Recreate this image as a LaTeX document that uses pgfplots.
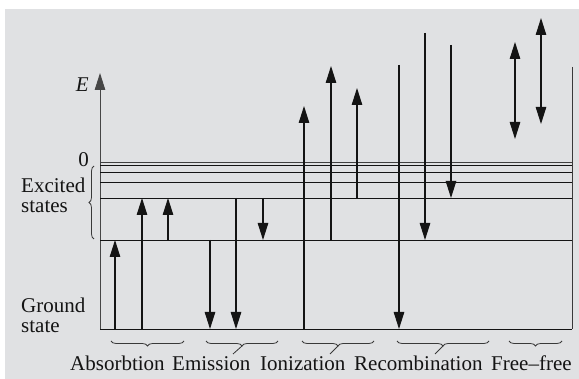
\documentclass[border=0pt]{standalone}
\usepackage{pgfplots}
\pgfplotsset{compat=1.18}
\usetikzlibrary{arrows.meta,decorations.pathreplacing}
\usepackage{fontspec}
\setmainfont{Liberation Serif}
\definecolor{panel}{RGB}{224,225,227}
\definecolor{ink}{RGB}{20,20,20}
\tikzset{
  arr/.style={-{Triangle[length=17pt,width=10.5pt]}},
  dbl/.style={{Triangle[length=17pt,width=10.5pt]}-{Triangle[length=17pt,width=10.5pt]}},
  br/.style={decorate, decoration={brace, mirror, amplitude=5pt}, gray!45!black, line width=0.8pt},
}
\begin{document}
\begin{tikzpicture}
\begin{axis}[
  width=579pt, height=379pt, scale only axis,
  xmin=0, xmax=579, ymin=0, ymax=379, y dir=reverse,
  hide axis, clip=false,
  every axis plot/.append style={ink, line width=1.1pt},
]
\path (axis cs:0,0) rectangle (axis cs:579,379);
\fill[panel] (axis cs:5,9) rectangle (axis cs:579,379);

% energy axis
\addplot[arr, gray!55!black, line width=1pt] coordinates {(100,329) (100,73)};
% right border
\addplot[gray!45!black, line width=1pt] coordinates {(572,67) (572,329)};
% levels
\addplot[line width=0.9pt] coordinates {(100,329) (572,329)};
\addplot[line width=0.9pt] coordinates {(100,240) (572,240)};
\addplot[line width=0.9pt] coordinates {(100,198) (572,198)};
\addplot[line width=0.7pt] coordinates {(100,182) (572,182)};
\addplot[line width=0.7pt] coordinates {(100,172) (572,172)};
\addplot[line width=0.7pt] coordinates {(100,165) (572,165)};
\addplot[line width=0.7pt, gray!50!black] coordinates {(100,162) (572,162)};

% absorption
\addplot[arr] coordinates {(115,329) (115,240)};
\addplot[arr] coordinates {(142,329) (142,198)};
\addplot[arr] coordinates {(168,240) (168,198)};
% emission
\addplot[arr] coordinates {(210,240) (210,329)};
\addplot[arr] coordinates {(236,198) (236,329)};
\addplot[arr] coordinates {(263,198) (263,240)};
% ionization
\addplot[arr] coordinates {(304,329) (304,106)};
\addplot[arr] coordinates {(331,240) (331,66)};
\addplot[arr] coordinates {(357,198) (357,88)};
% recombination
\addplot[arr] coordinates {(399,65) (399,329)};
\addplot[arr] coordinates {(425,33) (425,240)};
\addplot[arr] coordinates {(451,45) (451,198)};
% free-free
\addplot[dbl] coordinates {(515,42) (515,139)};
\addplot[dbl] coordinates {(541,18) (541,124)};

% braces
\draw[br] (axis cs:111,341) -- (axis cs:184,341);
\draw[br] (axis cs:206,341) -- (axis cs:278,341);
\draw[br] (axis cs:302,341) -- (axis cs:374,341);
\draw[br] (axis cs:397,341) -- (axis cs:489,341);
\draw[br] (axis cs:509,341) -- (axis cs:562,341);
\draw[gray!45!black, line width=0.8pt] (axis cs:242,346) -- (axis cs:233,354);
\draw[gray!45!black, line width=0.8pt] (axis cs:338,346) -- (axis cs:330,354);
\draw[gray!45!black, line width=0.8pt] (axis cs:443,346) -- (axis cs:435,354);
\draw[decorate, decoration={brace, amplitude=5pt}, gray!45!black, line width=0.8pt]
  (axis cs:94,239) -- (axis cs:94,166);

% labels
\begin{scope}[every node/.style={text=ink, font=\fontsize{21}{23}\selectfont, inner sep=0pt}]
\node[anchor=base east] at (axis cs:89,92) {\textit{E}};
\node[anchor=base east] at (axis cs:89,167) {0};
\node[anchor=base west] at (axis cs:21,193) {Excited};
\node[anchor=base west] at (axis cs:21,213) {states};
\node[anchor=base west] at (axis cs:21,313) {Ground};
\node[anchor=base west] at (axis cs:21,333) {state};
\node[anchor=base west] at (axis cs:70,371) {Absorbtion};
\node[anchor=base west] at (axis cs:172,371) {Emission};
\node[anchor=base west] at (axis cs:260,371) {Ionization};
\node[anchor=base west] at (axis cs:354,371) {Recombination};
\node[anchor=base west] at (axis cs:491,371) {Free–free};
\end{scope}
\end{axis}
\end{tikzpicture}
\end{document}
